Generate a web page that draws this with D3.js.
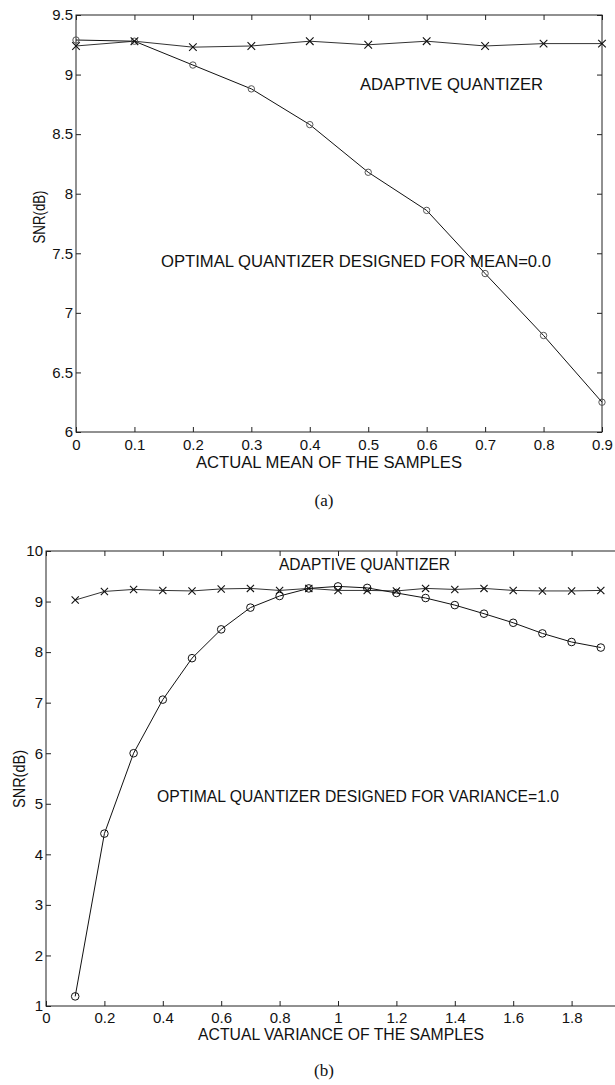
<!DOCTYPE html>
<html>
<head>
<meta charset="utf-8">
<script src="https://cdn.jsdelivr.net/npm/d3@7"></script>
<style>
  body { margin: 0; background: #fff; }
  svg { display: block; }
  .tick text { font-family: "Liberation Sans", Arial, Helvetica, sans-serif; font-size: 15px; fill: #111; }
  .tick line { stroke: #222; }
  .lbl { font-family: "Liberation Sans", Arial, Helvetica, sans-serif; font-size: 16px; fill: #111; }
  .cap { font-family: "Liberation Serif", "Times New Roman", serif; font-size: 17px; fill: #111; }
</style>
</head>
<body>
<div id="chart"></div>
<script>
// panel (a): SNR vs actual mean
const meanX = [0, 0.1, 0.2, 0.3, 0.4, 0.5, 0.6, 0.7, 0.8, 0.9];
const meanAdaptive = [9.24, 9.28, 9.23, 9.24, 9.28, 9.25, 9.28, 9.24, 9.26, 9.26];
const meanOptimal = [9.29, 9.28, 9.08, 8.88, 8.58, 8.18, 7.86, 7.33, 6.81, 6.25];
const meanXTicks = [0, 0.1, 0.2, 0.3, 0.4, 0.5, 0.6, 0.7, 0.8, 0.9];
const meanYTicks = [6, 6.5, 7, 7.5, 8, 8.5, 9, 9.5];

// panel (b): SNR vs actual variance
const varX = [0.1, 0.2, 0.3, 0.4, 0.5, 0.6, 0.7, 0.8, 0.9, 1.0,
  1.1, 1.2, 1.3, 1.4, 1.5, 1.6, 1.7, 1.8, 1.9];
const varAdaptive = [9.03, 9.2, 9.24, 9.22, 9.21, 9.25, 9.26, 9.22, 9.26, 9.22,
  9.22, 9.21, 9.26, 9.24, 9.26, 9.22, 9.21, 9.21, 9.22];
const varOptimal = [1.19, 4.41, 6.0, 7.06, 7.88, 8.45, 8.88, 9.11, 9.26, 9.3,
  9.27, 9.17, 9.07, 8.93, 8.76, 8.58, 8.37, 8.2, 8.09];
const varXTicks = [0, 0.2, 0.4, 0.6, 0.8, 1, 1.2, 1.4, 1.6, 1.8];
const varYTicks = [1, 2, 3, 4, 5, 6, 7, 8, 9, 10];

(function () {
  let svg = d3.select('#chart').append('svg')
    .attr('width', 615)
    .attr('height', 1085);

  function panel(p) {
    let x = d3.scaleLinear().domain(p.xDomain).range([p.left, p.right]);
    let y = d3.scaleLinear().domain(p.yDomain).range([p.bottom, p.top]);
    let g = svg.append('g');

    // frame
    g.append('rect')
      .attr('x', p.left).attr('y', p.top)
      .attr('width', p.right - p.left).attr('height', p.bottom - p.top)
      .attr('fill', 'none').attr('stroke', '#222').attr('stroke-width', 1);

    let fmt = (d) => String(d);

    g.append('g')
      .attr('transform', `translate(0, ${p.bottom})`)
      .call(d3.axisBottom(x).tickValues(p.xTicks).tickFormat(fmt)
        .tickSize(-5).tickSizeOuter(0).tickPadding(p.xPad))
      .call((a) => a.select('.domain').remove());

    g.append('g')
      .attr('transform', `translate(0, ${p.top})`)
      .call(d3.axisTop(x).tickValues(p.xTicks).tickFormat('')
        .tickSize(-5).tickSizeOuter(0))
      .call((a) => a.select('.domain').remove());

    g.append('g')
      .attr('transform', `translate(${p.left}, 0)`)
      .call(d3.axisLeft(y).tickValues(p.yTicks).tickFormat(fmt)
        .tickSize(-5).tickSizeOuter(0).tickPadding(p.yPad))
      .call((a) => a.select('.domain').remove());

    g.append('g')
      .attr('transform', `translate(${p.right}, 0)`)
      .call(d3.axisRight(y).tickValues(p.yTicks).tickFormat('')
        .tickSize(-5).tickSizeOuter(0))
      .call((a) => a.select('.domain').remove());

    let line = d3.line().x((d) => x(d[0])).y((d) => y(d[1]));

    let adaptive = p.xs.map((v, i) => [v, p.adaptive[i]]);
    let optimal = p.xs.map((v, i) => [v, p.optimal[i]]);

    g.append('path').datum(adaptive)
      .attr('d', line).attr('fill', 'none')
      .attr('stroke', '#333').attr('stroke-width', 1);

    g.append('path').datum(optimal)
      .attr('d', line).attr('fill', 'none')
      .attr('stroke', '#111').attr('stroke-width', 1);

    g.selectAll('.circ').data(optimal).enter()
      .append('circle')
      .attr('cx', (d) => x(d[0])).attr('cy', (d) => y(d[1]))
      .attr('r', p.circleR)
      .attr('fill', 'none').attr('stroke', p.circleStroke).attr('stroke-width', 1);

    let s = p.crossS;
    g.selectAll('.cross').data(adaptive).enter()
      .append('path')
      .attr('d', (d) => {
        let cx = x(d[0]), cy = y(d[1]);
        return `M${cx - s},${cy - s}L${cx + s},${cy + s}M${cx - s},${cy + s}L${cx + s},${cy - s}`;
      })
      .attr('stroke', '#111').attr('stroke-width', 1.1).attr('fill', 'none');

    // texts
    p.texts.forEach((t) => {
      g.append('text').attr('class', 'lbl')
        .attr('x', t.x).attr('y', t.y)
        .attr('textLength', t.w).attr('lengthAdjust', 'spacingAndGlyphs')
        .text(t.s);
    });

    g.append('text').attr('class', 'lbl')
      .attr('transform', `translate(${p.yLabel.x}, ${p.yLabel.y}) rotate(-90)`)
      .attr('text-anchor', 'middle')
      .attr('textLength', p.yLabel.w).attr('lengthAdjust', 'spacingAndGlyphs')
      .text('SNR(dB)');

    g.append('text').attr('class', 'cap')
      .attr('x', p.cap.x).attr('y', p.cap.y)
      .attr('text-anchor', 'middle')
      .text(p.cap.s);
  }

  panel({
    xDomain: [0, 0.9], yDomain: [6, 9.5],
    left: 76, right: 602, top: 15, bottom: 432,
    xTicks: meanXTicks, yTicks: meanYTicks, xPad: 7, yPad: 3,
    xs: meanX, adaptive: meanAdaptive, optimal: meanOptimal,
    circleR: 3.2, circleStroke: '#555', crossS: 3.8,
    texts: [
      { s: 'ADAPTIVE QUANTIZER', x: 360, y: 90, w: 183 },
      { s: 'OPTIMAL QUANTIZER DESIGNED FOR MEAN=0.0', x: 161, y: 267, w: 390 },
      { s: 'ACTUAL MEAN OF THE SAMPLES', x: 196, y: 468, w: 266 }
    ],
    yLabel: { x: 45, y: 217, w: 53 },
    cap: { s: '(a)', x: 324, y: 506 }
  });

  panel({
    xDomain: [0, 2], yDomain: [1, 10],
    left: 46, right: 630, top: 551, bottom: 1006,
    xTicks: varXTicks, yTicks: varYTicks, xPad: 6, yPad: 3,
    xs: varX, adaptive: varAdaptive, optimal: varOptimal,
    circleR: 3.8, circleStroke: '#111', crossS: 3.6,
    texts: [
      { s: 'ADAPTIVE QUANTIZER', x: 279, y: 570, w: 171 },
      { s: 'OPTIMAL QUANTIZER DESIGNED FOR VARIANCE=1.0', x: 157, y: 802, w: 402 },
      { s: 'ACTUAL VARIANCE OF THE SAMPLES', x: 198, y: 1040, w: 286 }
    ],
    yLabel: { x: 25, y: 779, w: 58 },
    cap: { s: '(b)', x: 324, y: 1076 }
  });
})();
</script>
</body>
</html>
